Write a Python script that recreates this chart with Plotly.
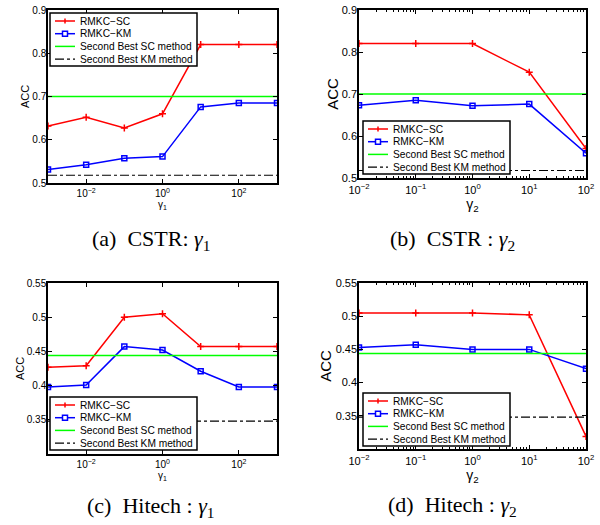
import plotly.graph_objects as go

# ---------------- data ----------------
gamma1 = [1e-3, 1e-2, 1e-1, 1e0, 1e1, 1e2, 1e3]
gamma2 = [1e-2, 1e-1, 1e0, 1e1, 1e2]

cstr_g1_sc = [0.632, 0.652, 0.627, 0.660, 0.820, 0.820, 0.820]
cstr_g1_km = [0.531, 0.542, 0.557, 0.561, 0.676, 0.685, 0.685]
cstr_g2_sc = [0.820, 0.820, 0.820, 0.752, 0.570]
cstr_g2_km = [0.673, 0.685, 0.672, 0.676, 0.559]
cstr_best_sc = 0.700
cstr_best_km = 0.518

hitech_g1_sc = [0.427, 0.429, 0.500, 0.505, 0.457, 0.457, 0.457]
hitech_g1_km = [0.398, 0.401, 0.457, 0.452, 0.421, 0.398, 0.398]
hitech_g2_sc = [0.505, 0.505, 0.505, 0.502, 0.319]
hitech_g2_km = [0.453, 0.457, 0.450, 0.450, 0.421]
hitech_best_sc = 0.444
hitech_best_km = 0.348

NB = "\u00a0"
captions = ["(a)" + NB * 2 + "CSTR:" + NB + "<i>γ</i><sub>1</sub>",
            "(b)" + NB * 2 + "CSTR" + NB + ":" + NB + "<i>γ</i><sub>2</sub>",
            "(c)" + NB * 2 + "Hitech" + NB + ":" + NB + "<i>γ</i><sub>1</sub>",
            "(d)" + NB * 2 + "Hitech" + NB + ":" + NB + "<i>γ</i><sub>2</sub>"]
xtitles = ["γ<sub>1</sub>", "γ<sub>2</sub>", "γ<sub>1</sub>", "γ<sub>2</sub>"]
names = ["RMKC−SC", "RMKC−KM", "Second Best SC method", "Second Best KM method"]
colors = ["#ff0000", "#0000ff", "#00ff00", "black"]

def dec_label(e):
    return "10<sup>%s</sup>" % (str(e).replace("-", "−"))

# ---------------- figure ----------------
# the page body margin is removed by a post script, so positions are in window pixels
W, H = 600, 525
fig = go.Figure()
SANS = "Liberation Sans, Arial, sans-serif"

def fx(px):
    return px / W

def fy(py):
    return 1 - py / H

panels = [
    dict(x=gamma1, sc=cstr_g1_sc, km=cstr_g1_km, bsc=cstr_best_sc, bkm=cstr_best_km,
         px=(48, 277), py=(10, 183), xr=(-3, 3), xt=[-2, 0, 2], yr=(0.5, 0.9),
         yt=[0.5, 0.6, 0.7, 0.8, 0.9], leg=(50, 13), big=False),
    dict(x=gamma2, sc=cstr_g2_sc, km=cstr_g2_km, bsc=cstr_best_sc, bkm=cstr_best_km,
         px=(359, 586), py=(10, 178), xr=(-2, 2), xt=[-2, -1, 0, 1, 2], yr=(0.5, 0.9),
         yt=[0.5, 0.6, 0.7, 0.8, 0.9], leg=(363, 121), big=True),
    dict(x=gamma1, sc=hitech_g1_sc, km=hitech_g1_km, bsc=hitech_best_sc, bkm=hitech_best_km,
         px=(48, 277), py=(283, 454), xr=(-3, 3), xt=[-2, 0, 2], yr=(0.3, 0.55),
         yt=[0.35, 0.4, 0.45, 0.5, 0.55], leg=(50, 397), big=False),
    dict(x=gamma2, sc=hitech_g2_sc, km=hitech_g2_km, bsc=hitech_best_sc, bkm=hitech_best_km,
         px=(359, 586), py=(283, 449), xr=(-2, 2), xt=[-2, -1, 0, 1, 2], yr=(0.3, 0.55),
         yt=[0.35, 0.4, 0.45, 0.5, 0.55], leg=(363, 393), big=True),
]

layout = {}
shapes = []
ann = []
for i, p in enumerate(panels):
    k = "" if i == 0 else str(i + 1)
    xa, ya = "x" + k, "y" + k
    xs = p["x"]
    xspan = [xs[0], xs[-1]]
    fig.add_trace(go.Scatter(x=xs, y=p["sc"], xaxis=xa, yaxis=ya, name=names[0],
                             showlegend=False,
                             mode="lines+markers", line=dict(color=colors[0], width=1.5),
                             marker=dict(symbol="cross-thin-open", size=5,
                                         line=dict(color=colors[0], width=1.5))))
    fig.add_trace(go.Scatter(x=xs, y=p["km"], xaxis=xa, yaxis=ya, name=names[1],
                             showlegend=False,
                             mode="lines+markers", line=dict(color=colors[1], width=1.5),
                             marker=dict(symbol="square-open", size=5,
                                         line=dict(color=colors[1], width=1.5))))
    fig.add_trace(go.Scatter(x=xspan, y=[p["bsc"]] * 2, xaxis=xa, yaxis=ya,
                             name=names[2], mode="lines", showlegend=False,
                             line=dict(color=colors[2], width=1.5)))
    fig.add_trace(go.Scatter(x=xspan, y=[p["bkm"]] * 2, xaxis=xa, yaxis=ya,
                             name=names[3], mode="lines", showlegend=False,
                             line=dict(color=colors[3], width=1.1, dash="dashdot")))
    big = p["big"]
    tfs = 11 if big else 10
    xaxis = dict(
        domain=[fx(p["px"][0]), fx(p["px"][1])], anchor=ya, type="log", automargin=False,
        range=list(p["xr"]), tickvals=[10 ** e for e in p["xt"]],
        ticktext=[dec_label(e) for e in p["xt"]],
        showline=True, linecolor="black", linewidth=1.5, mirror="ticks",
        ticks="inside", ticklen=4, tickcolor="black", showgrid=False, zeroline=False,
        tickfont=dict(family=SANS, size=tfs, color="black"),
        ticklabelstandoff=1 if big else 0,
        title=dict(text=xtitles[i], font=dict(family=SANS, size=14 if big else 10,
                                              color="black"), standoff=0),
    )
    if big:
        mv = [m * 10 ** e for e in range(p["xr"][0], p["xr"][1]) for m in range(2, 10)]
        xaxis["minor"] = dict(tickmode="array", tickvals=mv, ticks="inside", ticklen=2,
                              tickcolor="black", showgrid=False)
    layout["xaxis" + k] = xaxis
    layout["yaxis" + k] = dict(
        domain=[fy(p["py"][1]), fy(p["py"][0])], anchor=xa, automargin=False,
        range=list(p["yr"]), tickvals=p["yt"], ticktext=[("%g" % v) for v in p["yt"]],
        showline=True, linecolor="black", linewidth=1.5, mirror="ticks",
        ticks="inside", ticklen=4, tickcolor="black", showgrid=False, zeroline=False,
        tickfont=dict(family=SANS, size=tfs, color="black"), ticklabelstandoff=-2,
        title=dict(text="ACC", font=dict(family=SANS, size=15 if big else 11,
                                         color="black"), standoff=0),
    )

    # ---- manual legend (MATLAB-style compact box) ----
    L, T = p["leg"]
    bw, bh = 147, 53
    shapes.append(dict(type="rect", xref="paper", yref="paper", layer="above",
                       x0=fx(L), x1=fx(L + bw), y0=fy(T + bh), y1=fy(T),
                       fillcolor="white", line=dict(color="black", width=1.5)))
    for j in range(4):
        ry = T + 8 + j * 12.7
        dash = "dashdot" if j == 3 else "solid"
        shapes.append(dict(type="line", xref="paper", yref="paper", layer="above",
                           x0=fx(L + 5), x1=fx(L + 25), y0=fy(ry), y1=fy(ry),
                           line=dict(color=colors[j], width=1.5 if j < 3 else 1.1,
                                     dash=dash)))
        cx = L + 15
        if j == 0:
            shapes.append(dict(type="line", xref="paper", yref="paper", layer="above",
                               x0=fx(cx), x1=fx(cx), y0=fy(ry - 2.5), y1=fy(ry + 2.5),
                               line=dict(color=colors[0], width=1.5)))
        elif j == 1:
            shapes.append(dict(type="rect", xref="paper", yref="paper", layer="above",
                               x0=fx(cx - 2.5), x1=fx(cx + 2.5), y0=fy(ry + 2.5),
                               y1=fy(ry - 2.5), fillcolor="white",
                               line=dict(color=colors[1], width=1.5)))
        ann.append(dict(text=names[j], x=fx(L + 28), y=fy(ry), xref="paper",
                        yref="paper", xanchor="left", yanchor="middle", showarrow=False,
                        font=dict(family=SANS, size=10.2, color="black")))

cap_pos = [(151, 240), (452, 240), (151, 507), (452, 506)]
for c, (cx, cy) in zip(captions, cap_pos):
    ann.append(dict(text=c, x=fx(cx), y=fy(cy), xref="paper", yref="paper",
                    xanchor="center", yanchor="middle", showarrow=False,
                    font=dict(family="Liberation Serif, Times New Roman, serif", size=22,
                              color="black")))

fig.update_layout(width=W, height=H, margin=dict(l=0, r=0, t=0, b=0, autoexpand=False),
                  paper_bgcolor="white", plot_bgcolor="white", annotations=ann,
                  shapes=shapes, showlegend=False, **layout)
fig.write_html("out.html", config={"displayModeBar": False},
               post_script="document.body.style.margin='0';"
                           "document.body.style.overflow='hidden';")
